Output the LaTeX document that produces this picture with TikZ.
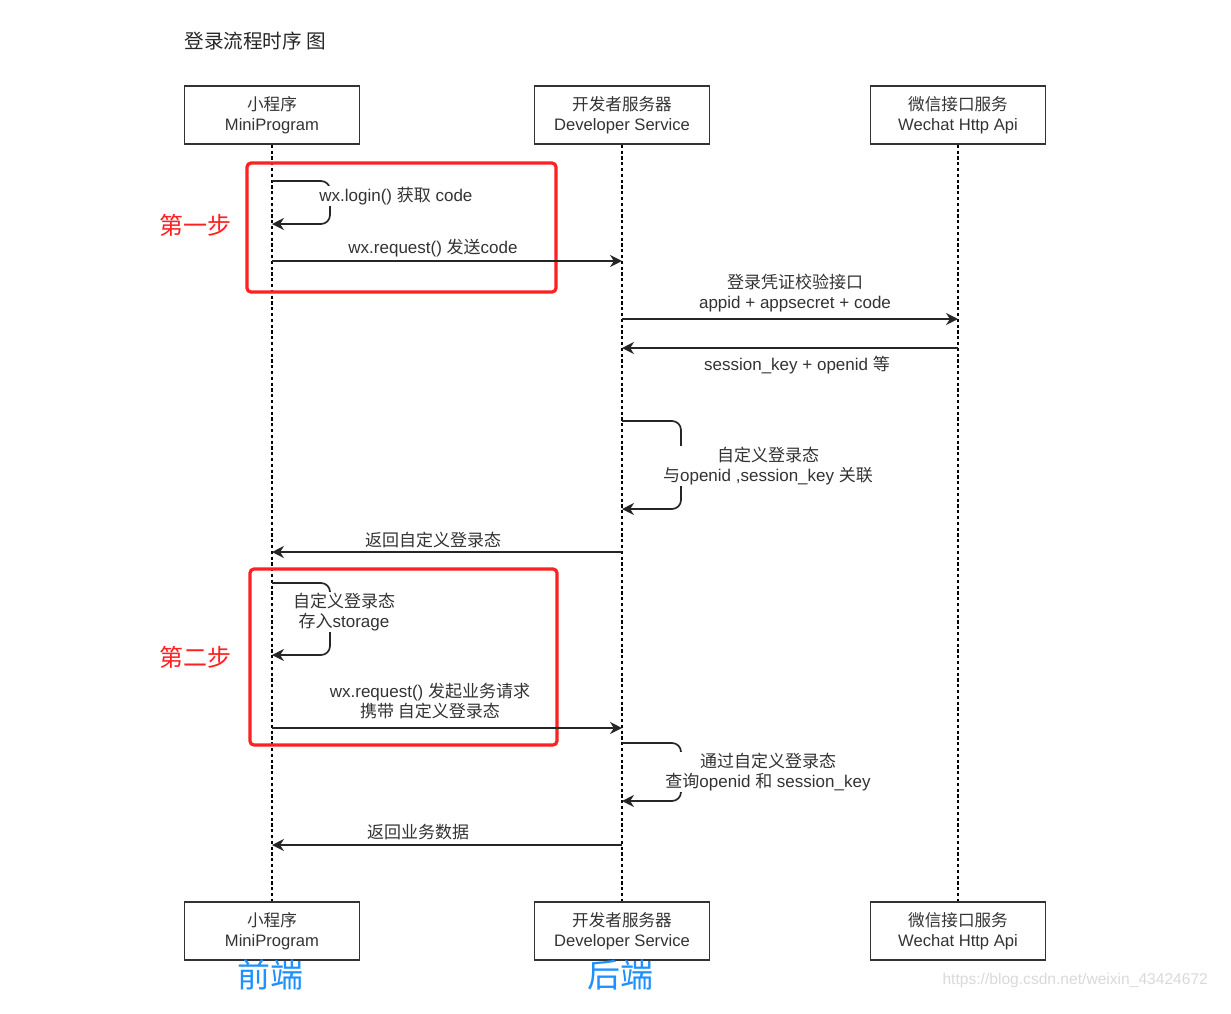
\documentclass[tikz,border=0pt]{standalone}
\usepackage{fontspec}
\setmainfont{Liberation Sans}
\newfontfamily\cjk{Noto Sans CJK SC}
\usetikzlibrary{arrows.meta}
\newcommand{\zh}[1]{{\cjk #1}}
\definecolor{txtgray}{HTML}{333333}
\definecolor{stepred}{HTML}{FF2020}
\definecolor{endblue}{HTML}{1E90FF}
\tikzset{
  actor/.style={draw=txtgray, line width=0.8pt, minimum width=87.5pt, minimum height=29pt,
    align=center, text=txtgray, inner sep=0pt, font=\fontsize{8.3pt}{10pt}\selectfont},
  lifeline/.style={black, line width=0.7pt, dash pattern=on 1.6pt off 1.3pt},
  msg/.style={black!85, line width=0.85pt, -{Stealth[length=6pt,width=6pt]}},
  lbl/.style={text=txtgray, align=center, inner sep=0.5pt, fill=white, font=\fontsize{8.5pt}{10pt}\selectfont},
  stepbox/.style={draw=stepred, line width=1.6pt, rounded corners=2pt},
  steplabel/.style={text=stepred, font=\fontsize{12pt}{14pt}\selectfont\cjk},
  sidelabel/.style={text=endblue, font=\fontsize{16.5pt}{18pt}\selectfont\cjk}
}
\begin{document}
\begin{tikzpicture}[x=0.5pt, y=-0.5pt]
    \useasboundingbox (0,0) rectangle (1231,1013);

    \node[anchor=west, inner sep=0pt, text=black!85, font=\fontsize{9.8pt}{12pt}\selectfont] (title) at (184,41) {\zh{登录流程时序 图}};

    % participants
    \node[actor] (mini) at (272,115) {\zh{小程序}\\MiniProgram};
    \node[actor] (dev) at (622,115) {\zh{开发者服务器}\\Developer Service};
    \node[actor] (wx) at (958,115) {\zh{微信接口服务}\\Wechat Http Api};
    \node[actor] (miniB) at (272,931) {\zh{小程序}\\MiniProgram};
    \node[actor] (devB) at (622,931) {\zh{开发者服务器}\\Developer Service};
    \node[actor] (wxB) at (958,931) {\zh{微信接口服务}\\Wechat Http Api};

    \draw[lifeline] (mini) -- (miniB);
    \draw[lifeline] (dev) -- (devB);
    \draw[lifeline] (wx) -- (wxB);

    % first step
    \draw[stepbox] (247,163) rectangle (556,292);
    \node[steplabel] (step1) at (195,225) {第一步};
    \draw[msg, rounded corners=4.5pt] (mini |- 0,181) -| (330,224) -- (mini |- 0,224);
    \node[lbl, anchor=west] (login) at (318,196) {wx.login() \zh{获取} code};
    \draw[msg] (mini |- 0,261) -- (dev |- 0,261);
    \node[lbl] (send) at (433,248) {wx.request() \zh{发送}code};

    \draw[msg] (dev |- 0,319) -- (wx |- 0,319);
    \node[lbl] (check) at (795,293) {\zh{登录凭证校验接口}\\appid + appsecret + code};
    \draw[msg] (wx |- 0,348) -- (dev |- 0,348);
    \node[lbl] (session) at (797,365) {session\_key + openid \zh{等}};

    \draw[msg, rounded corners=4.5pt] (dev |- 0,421) -| (681,509) -- (dev |- 0,509);
    \node[lbl] (bind) at (768,466) {\zh{自定义登录态}\\\zh{与}openid ,session\_key \zh{关联}};
    \draw[msg] (dev |- 0,552) -- (mini |- 0,552);
    \node[lbl] (back) at (433,540) {\zh{返回自定义登录态}};

    % second step
    \draw[stepbox] (250,569) rectangle (557,745);
    \node[steplabel] (step2) at (195,657) {第二步};
    \draw[msg, rounded corners=4.5pt] (mini |- 0,583) -| (330,655) -- (mini |- 0,655);
    \node[lbl] (store) at (344,612) {\zh{自定义登录态}\\\zh{存入}storage};
    \draw[msg] (mini |- 0,728) -- (dev |- 0,728);
    \node[lbl] (request) at (430,701) {wx.request() \zh{发起业务请求}\\\zh{携带 自定义登录态}};

    \draw[msg, rounded corners=4.5pt] (dev |- 0,743) -| (681,801) -- (dev |- 0,801);
    \node[lbl] (query) at (768,772) {\zh{通过自定义登录态}\\\zh{查询}openid \zh{和} session\_key};
    \draw[msg] (dev |- 0,845) -- (mini |- 0,845);
    \node[lbl] (data) at (418,832) {\zh{返回业务数据}};

    \node[sidelabel] (front) at (270,975) {前端};
    \node[sidelabel] (back end) at (620,975) {后端};
    \node[anchor=east, text=black!15, font=\fontsize{7.8pt}{9pt}\selectfont] (mark) at (1215,980) {https://blog.csdn.net/weixin\_43424672};
\end{tikzpicture}
\end{document}
